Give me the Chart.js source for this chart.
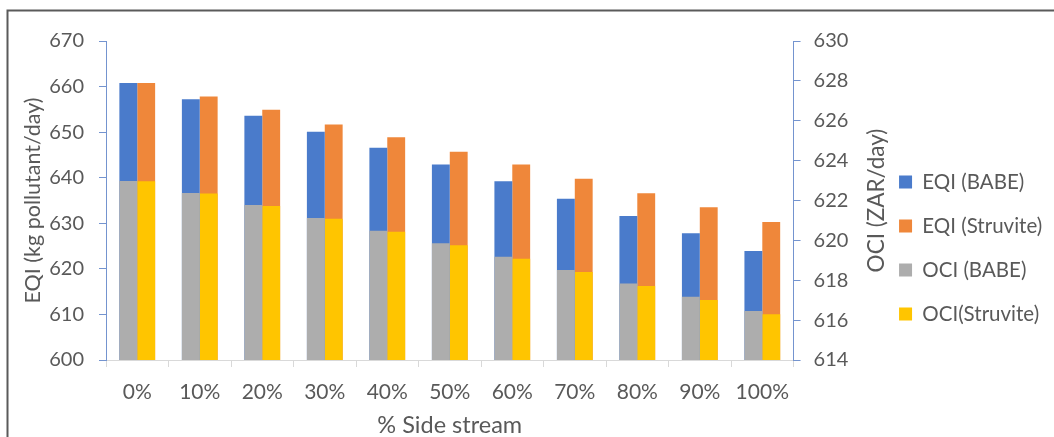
<!DOCTYPE html>
<html>
<head>
<meta charset="utf-8">
<script src="https://cdn.jsdelivr.net/npm/chart.js@4.4.1/dist/chart.umd.min.js"></script>
<style>
  html, body { margin: 0; padding: 0; background: #fff; }
  #wrap { position: relative; width: 1054px; height: 437px; }
</style>
</head>
<body>
<div id="wrap"><canvas id="chart" width="1054" height="437"></canvas></div>
<script>
// ==== dados ====
const categories   = ['0%', '10%', '20%', '30%', '40%', '50%', '60%', '70%', '80%', '90%', '100%'];
const eqiBabe      = [660.8, 657.2, 653.6, 650.1, 646.6, 642.9, 639.2, 635.4, 631.6, 627.8, 623.9];
const eqiStruvite  = [660.8, 657.8, 654.9, 651.7, 648.9, 645.7, 642.9, 639.8, 636.6, 633.5, 630.3];
const ociBabe      = [622.98, 622.38, 621.77, 621.12, 620.48, 619.86, 619.18, 618.51, 617.84, 617.17, 616.46];
const ociStruvite  = [622.97, 622.35, 621.72, 621.08, 620.43, 619.75, 619.08, 618.41, 617.71, 617.01, 616.29];

const eqiTicks = { min: 600, max: 670, step: 10 };
const ociTicks = { min: 614, max: 630, step: 2 };

const FONT = 'Lato, "Open Sans", sans-serif';
const TXT  = '#595959';
const AXIS_BLUE = '#7494CF';

// título do eixo direito (gira como no Excel) + moldura
const extras = {
  id: 'extras',
  afterDraw(chart) {
    const c = chart.ctx;
    const a = chart.chartArea;
    c.save();
    c.strokeStyle = '#5a5a5a';
    c.lineWidth = 2;
    c.beginPath();
    c.moveTo(7.5, 437); c.lineTo(7.5, 10.5); c.lineTo(1054, 10.5);
    c.stroke();

    c.translate(877, (a.top + a.bottom) / 2);
    c.rotate(-Math.PI / 2);
    c.fillStyle = TXT;
    c.font = '22.5px ' + FONT;
    c.textAlign = 'center';
    c.textBaseline = 'middle';
    c.fillText('OCI (ZAR/day)', 0, 0);
    c.restore();
  }
};

const chart = new Chart(document.getElementById('chart').getContext('2d'), {
  type: 'bar',
  data: {
    labels: categories,
    datasets: [
      { label: 'EQI (BABE)',     data: eqiBabe,     backgroundColor: '#4A7BCB', yAxisID: 'y',  stack: 'babe', order: 2 },
      { label: 'EQI (Struvite)', data: eqiStruvite, backgroundColor: '#EF873A', yAxisID: 'y',  stack: 'struvite', order: 2 },
      { label: 'OCI (BABE)',     data: ociBabe,     backgroundColor: '#ADADAD', yAxisID: 'y1', stack: 'babe', order: 1 },
      { label: 'OCI(Struvite)',  data: ociStruvite, backgroundColor: '#FFC500', yAxisID: 'y1', stack: 'struvite', order: 1 }
    ]
  },
  options: {
    responsive: false,
    animation: false,
    layout: { padding: { top: 41, right: 0, bottom: 0, left: 0 } },
    datasets: { bar: { categoryPercentage: 0.572, barPercentage: 1 } },
    plugins: {
      tooltip: { enabled: false },
      legend: {
        position: 'right',
        align: 'center',
        title: { display: true, text: '', padding: { top: 17, bottom: 0 }, font: { size: 1 } },
        labels: {
          boxWidth: 13, boxHeight: 13, padding: 23.5, color: TXT,
          font: { family: FONT, size: 20.5 },
          sort: (a, b) => a.datasetIndex - b.datasetIndex
        }
      }
    },
    scales: {
      x: {
        grid: { drawOnChartArea: false, drawTicks: true, tickLength: 7, color: '#D9D9D9', offset: true },
        border: { color: '#D9D9D9' },
        ticks: { color: TXT, font: { family: FONT, size: 21 }, padding: 13, maxRotation: 0 },
        title: { display: true, text: '% Side stream', color: TXT, font: { family: FONT, size: 23.5 }, padding: { top: 0, bottom: -3 } },
        afterFit: s => { s.height = 77; }
      },
      y: {
        position: 'left',
        stacked: false,
        min: eqiTicks.min, max: eqiTicks.max,
        grid: { drawOnChartArea: false, drawTicks: true, tickLength: 7, color: AXIS_BLUE },
        border: { color: AXIS_BLUE },
        ticks: { stepSize: eqiTicks.step, color: TXT, font: { family: FONT, size: 20 }, padding: 15 },
        title: { display: true, text: 'EQI (kg pollutant/day)', color: TXT, font: { family: FONT, size: 21.5 }, padding: { top: 20, bottom: 0 } },
        afterFit: s => { s.width = 106; }
      },
      y1: {
        position: 'right',
        stacked: false,
        min: ociTicks.min, max: ociTicks.max,
        grid: { drawOnChartArea: false, drawTicks: true, tickLength: 7, color: AXIS_BLUE },
        border: { color: AXIS_BLUE },
        ticks: { stepSize: ociTicks.step, color: TXT, font: { family: FONT, size: 20 }, padding: 13 },
        afterFit: s => { s.width = 82; }
      }
    }
  },
  plugins: [extras]
});

// encaixa a legenda para o eixo direito ficar em x≈793
chart.options.layout.padding.right = 179 - chart.legend.width;
chart.update();
</script>
</body>
</html>
